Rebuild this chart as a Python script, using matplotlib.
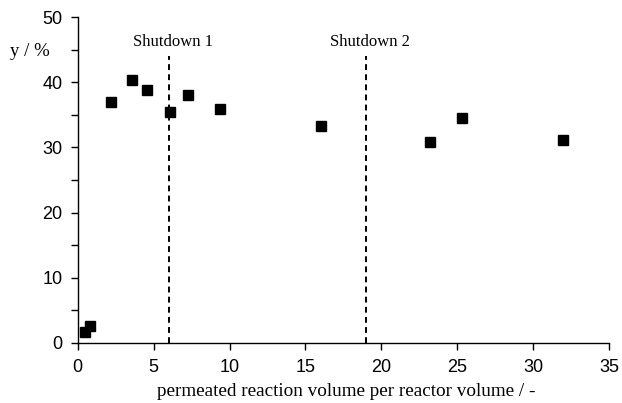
import numpy as np
import matplotlib
matplotlib.use('Agg')
import matplotlib.pyplot as plt
from matplotlib.ticker import MultipleLocator

# permeated reaction volume per reactor volume / yield
volume = [0.5, 0.8, 2.2, 3.6, 4.55, 6.05, 7.25, 9.4, 16.0, 23.2, 25.35, 32.0]
yield_pct = [1.7, 2.5, 37.0, 40.4, 38.9, 35.5, 38.0, 35.9, 33.3, 30.9, 34.6, 31.2]

shutdown_x = [6.0, 19.0]
shutdown_labels = ['Shutdown 1', 'Shutdown 2']
shutdown_top = 44.0

serif = ['Liberation Serif', 'DejaVu Serif']
sans = ['Liberation Sans', 'DejaVu Sans']

fig = plt.figure(figsize=(6.22, 4.03), dpi=100)
ax = fig.add_axes([0.125, 0.1496, 0.854, 0.8074])

ax.plot(volume, yield_pct, linestyle='none', marker='s', markersize=6.5,
        color='k')

for xs, lab in zip(shutdown_x, shutdown_labels):
    ax.plot([xs, xs], [0, shutdown_top], color='k', linewidth=1.4,
            dashes=(3.0, 2.2))
    ax.text(xs + 0.25, 45.6, lab, ha='center', va='baseline',
            fontsize=12, family=serif)

ax.set_xlim(0, 35)
ax.set_ylim(0, 50)
ax.xaxis.set_major_locator(MultipleLocator(5))
ax.yaxis.set_major_locator(MultipleLocator(10))
ax.yaxis.set_minor_locator(MultipleLocator(5))

for s in ['top', 'right']:
    ax.spines[s].set_visible(False)
for s in ['left', 'bottom']:
    ax.spines[s].set_linewidth(1.0)

ax.tick_params(axis='both', which='major', direction='out', length=5,
               width=1.0, labelsize=13)
ax.tick_params(axis='x', which='major', pad=6.5)
ax.tick_params(axis='y', which='major', pad=6)
ax.tick_params(axis='y', which='minor', direction='out', length=5, width=1.0)
for lab in ax.get_xticklabels() + ax.get_yticklabels():
    lab.set_family(sans)

fig.text(0.557, 0.0174, 'permeated reaction volume per reactor volume / -',
         fontsize=13.8, family=serif, ha='center', va='baseline')
fig.text(0.016, 0.873, 'y / %', fontsize=13.5, family=serif,
         ha='left', va='center')

fig.savefig('out.png', dpi=100)
